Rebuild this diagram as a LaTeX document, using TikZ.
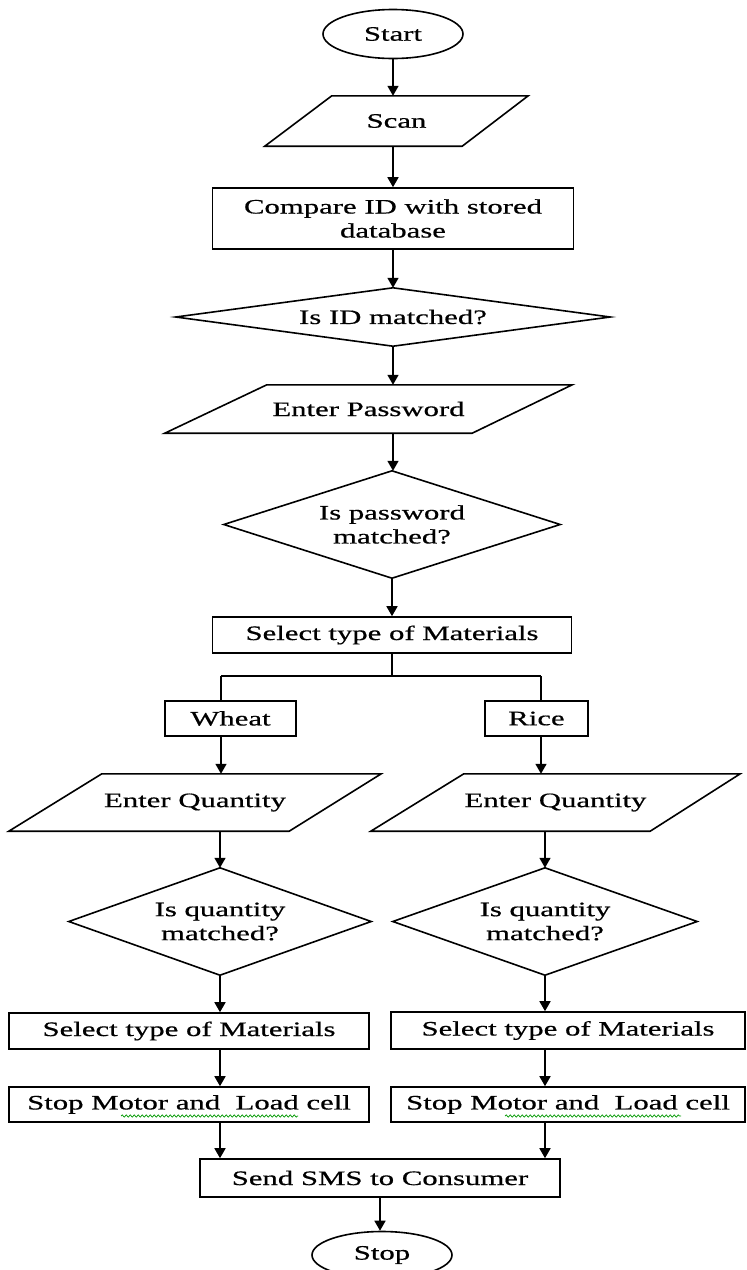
\documentclass[tikz,border=0pt]{standalone}
\usepackage{fontspec}
\setmainfont[FakeStretch=1.5,FakeBold=0.6]{Liberation Serif}
\usetikzlibrary{shapes.geometric,arrows.meta,decorations.pathmorphing}
\begin{document}
\begin{tikzpicture}[x=1pt,y=-1pt,
  font=\fontsize{20.5}{24}\selectfont,
  line/.style={draw=black,line width=1.6pt,line join=miter},
  arr/.style={line,-{Triangle[length=10pt,width=11pt]}},
  box/.style={rectangle,line,inner sep=0pt,align=center},
  hold/.style={rectangle,draw=none,inner sep=0pt,align=center},
  term/.style={ellipse,line,inner sep=0pt},
  squig/.style={draw=green!60!black,line width=0.7pt,decorate,decoration={snake,amplitude=1.1pt,segment length=4pt}}]
\useasboundingbox (0,0) rectangle (747,1270);
\clip (0,0) rectangle (747,1270);
\fill[white] (0,0) rectangle (747,1270);

% nodes
\node[term,minimum width=140pt,minimum height=49pt] (start) at (393,34) {Start};
\node[hold,minimum width=263pt,minimum height=50pt] (scan) at (396.5,121) {Scan};
\draw[line] ([xshift=67pt]scan.north west) -- (scan.north east) -- ([xshift=-66pt]scan.south east) -- (scan.south west) -- cycle;
\node[box,minimum width=361pt,minimum height=61pt] (cmp) at (393,218.5) {Compare ID with stored\\database};
\node[hold,minimum width=434pt,minimum height=58pt] (idq) at (393,317) {Is ID matched?};
\draw[line] (idq.north) -- (idq.east) -- (idq.south) -- (idq.west) -- cycle;
\node[hold,minimum width=407pt,minimum height=48pt] (pw) at (368.5,409) {Enter Password};
\draw[line] ([xshift=102pt]pw.north west) -- (pw.north east) -- ([xshift=-100pt]pw.south east) -- (pw.south west) -- cycle;
\node[hold,minimum width=336pt,minimum height=107pt] (pwq) at (392,524.5) {Is password\\matched?};
\draw[line] (pwq.north) -- (pwq.east) -- (pwq.south) -- (pwq.west) -- cycle;
\node[box,minimum width=359pt,minimum height=36pt] (sel) at (392,635) {Select type of Materials};
\node[box,minimum width=131pt,minimum height=35pt] (wheat) at (230.5,718.5) {Wheat};
\node[box,minimum width=103pt,minimum height=35pt] (rice) at (536.5,718.5) {Rice};
\node[hold,minimum width=372pt,minimum height=57pt] (eqL) at (195,802.5) {Enter Quantity};
\draw[line] ([xshift=93pt]eqL.north west) -- (eqL.north east) -- ([xshift=-92pt]eqL.south east) -- (eqL.south west) -- cycle;
\node[hold,minimum width=369pt,minimum height=57pt] (eqR) at (555.5,802.5) {Enter Quantity};
\draw[line] ([xshift=93pt]eqR.north west) -- (eqR.north east) -- ([xshift=-90pt]eqR.south east) -- (eqR.south west) -- cycle;
\node[hold,minimum width=302pt,minimum height=107pt] (qL) at (220,921.5) {Is quantity\\matched?};
\draw[line] (qL.north) -- (qL.east) -- (qL.south) -- (qL.west) -- cycle;
\node[hold,minimum width=304pt,minimum height=107pt] (qR) at (545,921.5) {Is quantity\\matched?};
\draw[line] (qR.north) -- (qR.east) -- (qR.south) -- (qR.west) -- cycle;
\node[box,minimum width=360pt,minimum height=36pt] (selL) at (189,1031) {Select type of Materials};
\node[box,minimum width=354pt,minimum height=37pt] (selR) at (568,1030.5) {Select type of Materials};
\node[box,minimum width=360pt,minimum height=35pt] (stopL) at (189,1104.5) {Stop Motor and~~Load cell};
\node[box,minimum width=354pt,minimum height=35pt] (stopR) at (568,1104.5) {Stop Motor and~~Load cell};
\node[box,minimum width=360pt,minimum height=38pt] (sms) at (380,1178) {Send SMS to Consumer};
\node[term,minimum width=140pt,minimum height=47pt] (stop) at (382,1255) {Stop};

% spell-check squiggles
\path[squig] (121,1116) -- (298,1116);
\path[squig] (505,1116) -- (681,1116);

% connectors
\draw[arr] (start.south) -- (start.south |- scan.north);
\draw[arr] (cmp.north |- scan.south) -- (cmp.north);
\draw[arr] (cmp.south) -- (cmp.south |- idq.north);
\draw[arr] (idq.south) -- (idq.south |- pw.north);
\draw[arr] (idq.south |- pw.south) -- (idq.south |- pwq.north);
\draw[arr] (pwq.south) -- (pwq.south |- sel.north);
\coordinate (bL) at (221,676);
\coordinate (bR) at (541,676);
\draw[line] (sel.south) -- (sel.south |- bL);
\draw[line] (bL) -- (bR);
\draw[line] (bL) -- (bL |- wheat.north);
\draw[line] (bR) -- (bR |- rice.north);
\draw[arr] (bL |- wheat.south) -- (bL |- eqL.north);
\draw[arr] (bR |- rice.south) -- (bR |- eqR.north);
\draw[arr] (qL.north |- eqL.south) -- (qL.north);
\draw[arr] (qR.north |- eqR.south) -- (qR.north);
\draw[arr] (qL.south) -- (qL.south |- selL.north);
\draw[arr] (qR.south) -- (qR.south |- selR.north);
\draw[arr] (qL.south |- selL.south) -- (qL.south |- stopL.north);
\draw[arr] (qR.south |- selR.south) -- (qR.south |- stopR.north);
\draw[arr] (qL.south |- stopL.south) -- (qL.south |- sms.north);
\draw[arr] (qR.south |- stopR.south) -- (qR.south |- sms.north);
\draw[arr] (sms.south) -- (sms.south |- stop.north);
\end{tikzpicture}
\end{document}
